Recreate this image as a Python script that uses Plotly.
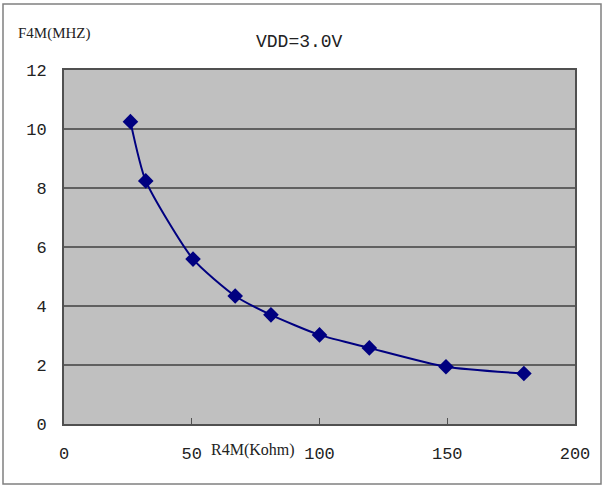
import plotly.graph_objects as go

r4m_kohm = [26, 32, 50.5, 67, 81, 100, 119.5, 149.5, 180]
f4m_mhz = [10.25, 8.24, 5.59, 4.34, 3.70, 3.02, 2.58, 1.94, 1.71]

x_ticks = [0, 50, 100, 150, 200]
y_ticks = [0, 2, 4, 6, 8, 10, 12]

W, H = 605, 488
L, R, T, B = 64, 30, 70, 64
pw, ph = W - L - R, H - T - B

def px(xp):
    return (xp - L) / pw

def py(yp):
    return (H - B - yp) / ph

fig = go.Figure()
fig.add_trace(go.Scatter(
    x=r4m_kohm, y=f4m_mhz, mode="lines+markers",
    line=dict(color="#000080", width=2, shape="spline", smoothing=0.6),
    marker=dict(symbol="diamond", size=12, color="#000080"),
    showlegend=False,
))

fig.update_layout(
    width=W, height=H,
    margin=dict(l=L, r=R, t=T, b=B),
    paper_bgcolor="white",
    plot_bgcolor="#C0C0C0",
    font=dict(family="Liberation Mono", size=17, color="#222"),
    xaxis=dict(range=[0, 200], tickvals=x_ticks, showgrid=False, zeroline=False,
               showline=True, linecolor="#505050", linewidth=2, mirror=True,
               ticks="inside", ticklen=6, tickcolor="#505050",
               ticklabelstandoff=13),
    yaxis=dict(range=[0, 12], tickvals=y_ticks, showgrid=True, gridcolor="#606060",
               gridwidth=2, zeroline=False, showline=True, linecolor="#505050",
               linewidth=2, mirror=True, ticks="", ticklabelstandoff=12),
    shapes=[dict(type="rect", xref="paper", yref="paper",
                 x0=px(3), x1=px(601), y0=py(484), y1=py(4),
                 line=dict(color="#808080", width=1.5), layer="below")],
    annotations=[
        dict(text="VDD=3.0V", xref="paper", yref="paper", x=px(299), y=py(30),
             showarrow=False, font=dict(family="Liberation Mono", size=18)),
        dict(text="F4M(MHZ)", xref="paper", yref="paper", x=px(16), y=py(23),
             xanchor="left", showarrow=False,
             font=dict(family="Liberation Serif", size=15)),
        dict(text="R4M(Kohm)", xref="paper", yref="paper", x=px(209), y=py(461),
             xanchor="left", showarrow=False,
             font=dict(family="Liberation Serif", size=16)),
    ],
)

fig.write_html("out.html", config={"displayModeBar": False},
               post_script="document.body.style.margin='0';document.body.style.overflow='hidden';")
